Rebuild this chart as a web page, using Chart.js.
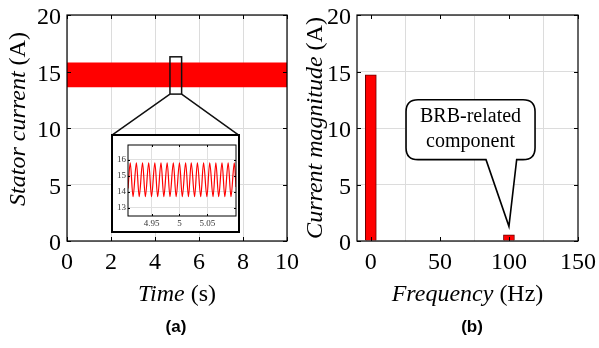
<!DOCTYPE html>
<html>
<head>
<meta charset="utf-8">
<script src="https://cdn.jsdelivr.net/npm/chart.js@4/dist/chart.umd.min.js"></script>
<style>
  body { margin: 0; background: #fff; }
  #wrap { position: relative; width: 599px; height: 348px; overflow: hidden; background: #fff; }
  #wrap > canvas { position: absolute; top: 0; }
  #timeChart { left: 0; }
  #specChart { left: 300px; }
  #inset { position: absolute; border: 2px solid #000; background: #fff; box-sizing: border-box; }
  #inset canvas { position: absolute; left: 0; top: 0; }
  .tag { position: absolute; top: 317px; font: bold 17px "Liberation Sans", Arial, sans-serif; transform: translateX(-50%); }
</style>
</head>
<body>
<div id="wrap">
  <canvas id="timeChart" width="300" height="348"></canvas>
  <canvas id="specChart" width="299" height="348"></canvas>
  <div id="inset"><canvas id="insetChart"></canvas></div>
  <div class="tag" style="left:176px">(a)</div>
  <div class="tag" style="left:472px">(b)</div>
</div>
<script>
const SERIF = '"Liberation Serif", "Times New Roman", serif';

// (a) stator current: at 0-10 s the waveform is a solid band between these levels
const bandTime = [0, 10];
const bandLow = [13.6, 13.6];
const bandHigh = [15.8, 15.8];

// inset around t = 5 s, peaks and troughs
const insetTime = [4.908, 4.912, 4.917, 4.923, 4.928, 4.934, 4.939, 4.945, 4.950, 4.956,
  4.961, 4.967, 4.972, 4.978, 4.983, 4.989, 4.994, 5.000, 5.005, 5.011, 5.016, 5.021,
  5.027, 5.032, 5.038, 5.043, 5.049, 5.054, 5.060, 5.065, 5.070, 5.076, 5.081, 5.087,
  5.092, 5.098, 5.101];
const insetCurrent = [14.2, 15.8, 13.7, 15.8, 13.7, 15.8, 13.7, 15.8, 13.7, 15.8,
  13.7, 15.8, 13.7, 15.8, 13.7, 15.8, 13.7, 15.8, 13.7, 15.8, 13.7, 15.8,
  13.7, 15.8, 13.7, 15.8, 13.7, 15.8, 13.7, 15.8, 13.7, 15.8, 13.7, 15.8,
  13.7, 15.8, 14.3];

// (b) spectrum
const freqs = [0, 100];
const magnitudes = [14.7, 0.55];

const timeTicks = [0, 2, 4, 6, 8, 10];
const currentTicks = [0, 5, 10, 15, 20];
const freqTicks = [0, 50, 100, 150];
const insetTimeTicks = [4.95, 5, 5.05];
const insetCurrentTicks = [13, 14, 15, 16];

// zoom marker, inset frame and callout, in data units
const zoomRect = { x0: 4.68, x1: 5.21, y0: 13.0, y1: 16.3 };
const insetBox = { x0: 2.0, x1: 7.85, y0: 0.65, y1: 9.45 };
const callout = { x0: 25.5, x1: 118.9, y0: 7.2, y1: 12.5, base0: 83.4, base1: 105.6, tipX: 100, tipY: 1.3 };

const setTicks = (list) => (s) => { s.ticks = list.map((v) => ({ value: v })); };
// keep the plot box where it is, labels may hang over the edges
const fitY = (w) => (s) => { s.width = w; s.paddingTop = 0; s.paddingBottom = 0; };
const fitX = (h) => (s) => { s.height = h; s.paddingLeft = 0; s.paddingRight = 0; };

// draw text made of several runs (italic + upright) centred on x,y
function drawParts(ctx, parts, x, y, rotate) {
  ctx.save();
  ctx.translate(x, y);
  if (rotate) ctx.rotate(-Math.PI / 2);
  let total = 0;
  parts.forEach((p) => { ctx.font = p.font; total += ctx.measureText(p.text).width; });
  let cx = -total / 2;
  ctx.textBaseline = 'middle';
  ctx.textAlign = 'left';
  ctx.fillStyle = '#000';
  parts.forEach((p) => {
    ctx.font = p.font;
    ctx.fillText(p.text, cx, 0);
    cx += ctx.measureText(p.text).width;
  });
  ctx.restore();
}

// full box round the plot with MATLAB style inward ticks
function framePlugin(lw, tick) {
  return {
    id: 'frame',
    afterDatasetsDraw(chart) {
      const { ctx, chartArea: a, scales } = chart;
      ctx.save();
      ctx.strokeStyle = '#000';
      ctx.lineWidth = 1;
      ctx.beginPath();
      scales.x.ticks.forEach((t) => {
        const px = Math.round(scales.x.getPixelForValue(t.value)) + 0.5;
        ctx.moveTo(px, a.bottom); ctx.lineTo(px, a.bottom - tick);
        ctx.moveTo(px, a.top); ctx.lineTo(px, a.top + tick);
      });
      scales.y.ticks.forEach((t) => {
        const py = Math.round(scales.y.getPixelForValue(t.value)) + 0.5;
        ctx.moveTo(a.left, py); ctx.lineTo(a.left + tick, py);
        ctx.moveTo(a.right, py); ctx.lineTo(a.right - tick, py);
      });
      ctx.stroke();
      ctx.lineWidth = lw;
      ctx.strokeRect(a.left, a.top, a.right - a.left, a.bottom - a.top);
      ctx.restore();
    },
  };
}

function titlePlugin(xParts, yParts, yTitleX, yTitleY, xTitleY) {
  return {
    id: 'titles',
    afterDraw(chart) {
      const a = chart.chartArea;
      drawParts(chart.ctx, xParts, (a.left + a.right) / 2, xTitleY, false);
      drawParts(chart.ctx, yParts, yTitleX, yTitleY, true);
    },
  };
}

const ital = 'italic 24px ' + SERIF;
const upright = '24px ' + SERIF;

const axisStyle = {
  grid: { color: '#dcdcdc', drawTicks: false },
  border: { display: false },
};
const tickFont = { family: SERIF, size: 24 };

const zoomPlugin = {
  id: 'zoomMarker',
  afterDatasetsDraw(chart) {
    const { ctx, scales: { x, y } } = chart;
    const rx0 = x.getPixelForValue(zoomRect.x0), rx1 = x.getPixelForValue(zoomRect.x1);
    const ry0 = y.getPixelForValue(zoomRect.y0), ry1 = y.getPixelForValue(zoomRect.y1);
    const bx0 = x.getPixelForValue(insetBox.x0), bx1 = x.getPixelForValue(insetBox.x1);
    const by1 = y.getPixelForValue(insetBox.y1);
    ctx.save();
    ctx.strokeStyle = '#111';
    ctx.lineWidth = 1.5;
    ctx.strokeRect(rx0, ry1, rx1 - rx0, ry0 - ry1);
    ctx.beginPath();
    ctx.moveTo(rx0, ry0); ctx.lineTo(bx0 + 1, by1 + 1);
    ctx.moveTo(rx1, ry0); ctx.lineTo(bx1 - 1, by1 + 1);
    ctx.stroke();
    ctx.restore();
  },
};

const timeChart = new Chart(document.getElementById('timeChart'), {
  type: 'line',
  data: {
    datasets: [
      {
        data: bandTime.map((t, i) => ({ x: t, y: bandLow[i] })),
        borderWidth: 0, pointRadius: 0, fill: false,
      },
      {
        data: bandTime.map((t, i) => ({ x: t, y: bandHigh[i] })),
        borderWidth: 0, pointRadius: 0, fill: '-1', backgroundColor: '#ff0000',
      },
    ],
  },
  options: {
    responsive: false,
    animation: false,
    layout: { padding: { left: 0, right: 13, top: 15, bottom: 0 } },
    plugins: { legend: { display: false }, tooltip: { enabled: false } },
    scales: {
      x: {
        type: 'linear', min: 0, max: 10,
        afterBuildTicks: setTicks(timeTicks),
        afterFit: fitX(107),
        ...axisStyle,
        ticks: { font: tickFont, color: '#000', padding: 7, maxRotation: 0 },
      },
      y: {
        min: 0, max: 20,
        afterBuildTicks: setTicks(currentTicks),
        afterFit: fitY(67),
        ...axisStyle,
        ticks: { font: tickFont, color: '#000', padding: 6, labelOffset: 3 },
      },
    },
  },
  plugins: [
    zoomPlugin,
    framePlugin(1.2, 4),
    titlePlugin(
      [{ text: 'Time ', font: ital }, { text: '(s)', font: upright }],
      [{ text: 'Stator current ', font: ital }, { text: '(A)', font: upright }],
      19, 119, 295
    ),
  ],
});

// place the inset over its frame in the time plot
const sx = timeChart.scales.x, sy = timeChart.scales.y;
const insetDiv = document.getElementById('inset');
const bl = sx.getPixelForValue(insetBox.x0), br = sx.getPixelForValue(insetBox.x1);
const bt = sy.getPixelForValue(insetBox.y1), bb = sy.getPixelForValue(insetBox.y0);
insetDiv.style.left = Math.round(bl) + 'px';
insetDiv.style.top = Math.round(bt) + 'px';
insetDiv.style.width = Math.round(br - bl) + 'px';
insetDiv.style.height = Math.round(bb - bt) + 'px';
const insetCanvas = document.getElementById('insetChart');
insetCanvas.width = Math.round(br - bl) - 4;
insetCanvas.height = Math.round(bb - bt) - 4;

const insetFont = { family: SERIF, size: 9 };
new Chart(insetCanvas, {
  type: 'line',
  data: {
    datasets: [{
      data: insetTime.map((t, i) => ({ x: t, y: insetCurrent[i] })),
      borderColor: '#ff0000', borderWidth: 1.2, pointRadius: 0,
      cubicInterpolationMode: 'monotone', fill: false,
    }],
  },
  options: {
    responsive: false,
    animation: false,
    layout: { padding: { left: 0, right: 2, top: 9, bottom: 0 } },
    plugins: { legend: { display: false }, tooltip: { enabled: false } },
    scales: {
      x: {
        type: 'linear', min: 4.908, max: 5.101,
        afterBuildTicks: setTicks(insetTimeTicks),
        afterFit: fitX(15),
        grid: { color: '#e0e0e0', drawTicks: false },
        border: { display: false },
        ticks: {
          font: insetFont, color: '#333', padding: 2, maxRotation: 0,
          callback: (v) => String(+v.toFixed(2)),
        },
      },
      y: {
        min: 12.5, max: 16.9,
        afterBuildTicks: setTicks(insetCurrentTicks),
        afterFit: fitY(15),
        grid: { color: '#e0e0e0', drawTicks: false },
        border: { display: false },
        ticks: { font: insetFont, color: '#333', padding: 2 },
      },
    },
  },
  plugins: [framePlugin(1, 2)],
});

const calloutPlugin = {
  id: 'callout',
  afterDatasetsDraw(chart) {
    const { ctx, scales: { x, y } } = chart;
    const l = x.getPixelForValue(callout.x0), r = x.getPixelForValue(callout.x1);
    const t = y.getPixelForValue(callout.y1), b = y.getPixelForValue(callout.y0);
    const b0 = x.getPixelForValue(callout.base0), b1 = x.getPixelForValue(callout.base1);
    const tx = x.getPixelForValue(callout.tipX), ty = y.getPixelForValue(callout.tipY);
    const rad = 12;
    ctx.save();
    ctx.beginPath();
    ctx.moveTo(l + rad, t);
    ctx.lineTo(r - rad, t);
    ctx.quadraticCurveTo(r, t, r, t + rad);
    ctx.lineTo(r, b - rad);
    ctx.quadraticCurveTo(r, b, r - rad, b);
    ctx.lineTo(b1, b);
    ctx.lineTo(tx, ty);
    ctx.lineTo(b0, b);
    ctx.lineTo(l + rad, b);
    ctx.quadraticCurveTo(l, b, l, b - rad);
    ctx.lineTo(l, t + rad);
    ctx.quadraticCurveTo(l, t, l + rad, t);
    ctx.closePath();
    ctx.fillStyle = '#fff';
    ctx.fill();
    ctx.strokeStyle = '#000';
    ctx.lineWidth = 1.6;
    ctx.stroke();
    ctx.fillStyle = '#000';
    ctx.font = '20px ' + SERIF;
    ctx.textAlign = 'center';
    ctx.textBaseline = 'middle';
    const cx = (l + r) / 2;
    ctx.fillText('BRB-related', cx, t + 17);
    ctx.fillText('component', cx, t + 42);
    ctx.restore();
  },
};

new Chart(document.getElementById('specChart'), {
  type: 'bar',
  data: {
    datasets: [{
      data: freqs.map((f, i) => ({ x: f, y: magnitudes[i] })),
      backgroundColor: '#ff0000',
      borderColor: '#6a0000',
      borderWidth: 1,
      barThickness: 11,
    }],
  },
  options: {
    responsive: false,
    animation: false,
    layout: { padding: { left: 0, right: 21, top: 15, bottom: 0 } },
    plugins: { legend: { display: false }, tooltip: { enabled: false } },
    scales: {
      x: {
        type: 'linear', min: -10, max: 150, offset: false,
        afterBuildTicks: setTicks(freqTicks),
        afterFit: fitX(107),
        ...axisStyle,
        ticks: { font: tickFont, color: '#000', padding: 7, maxRotation: 0 },
      },
      y: {
        min: 0, max: 20,
        afterBuildTicks: setTicks(currentTicks),
        afterFit: fitY(57),
        ...axisStyle,
        ticks: { font: tickFont, color: '#000', padding: 6, labelOffset: 3 },
      },
    },
  },
  plugins: [
    calloutPlugin,
    framePlugin(1.2, 4),
    titlePlugin(
      [{ text: 'Frequency ', font: ital }, { text: '(Hz)', font: upright }],
      [{ text: 'Current magnitude ', font: ital }, { text: '(A)', font: upright }],
      16, 128, 295
    ),
  ],
});
</script>
</body>
</html>
